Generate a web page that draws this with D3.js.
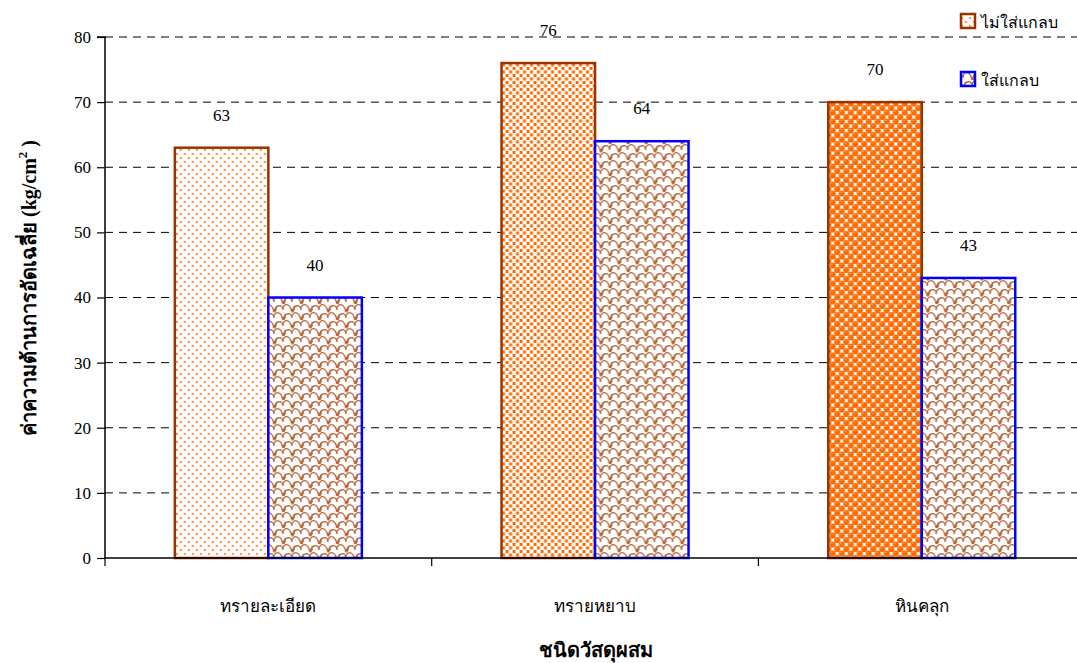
<!DOCTYPE html>
<html><head><meta charset="utf-8">
<script src="https://cdn.jsdelivr.net/npm/d3@7"></script>
<style>
body{margin:0;background:#fff;}
svg text{font-family:"Liberation Serif","Times New Roman","DejaVu Serif",serif;}
</style></head>
<body><svg id="c" width="1077" height="663"></svg>
<script>
const categories = ["ทรายละเอียด","ทรายหยาบ","หินคลุก"];
const seriesNames = ["ไม่ใส่แกลบ","ใส่แกลบ"];
const noHusk = [63,76,70];
const withHusk = [40,64,43];
const yTicks = [0,10,20,30,40,50,60,70,80];

const svg = d3.select("#c");
const defs = svg.append("defs");

// patterns
const p1 = defs.append("pattern").attr("id","dots").attr("patternUnits","userSpaceOnUse").attr("width",8).attr("height",8);
p1.append("rect").attr("width",8).attr("height",8).attr("fill","#fff");
p1.append("circle").attr("cx",2).attr("cy",2).attr("r",1.3).attr("fill","#ff9a5a");
p1.append("circle").attr("cx",6).attr("cy",6).attr("r",1.3).attr("fill","#ff9a5a");

const p2 = defs.append("pattern").attr("id","sq").attr("patternUnits","userSpaceOnUse").attr("width",7).attr("height",7);
p2.append("rect").attr("width",7).attr("height",7).attr("fill","#fff");
p2.append("rect").attr("x",0.4).attr("y",0.4).attr("width",3.1).attr("height",3.1).attr("fill","#ff6a00");
p2.append("rect").attr("x",4).attr("y",4).attr("width",3.1).attr("height",3.1).attr("fill","#ff6a00");

const p3 = defs.append("pattern").attr("id","chk").attr("patternUnits","userSpaceOnUse").attr("width",9).attr("height",9);
p3.append("rect").attr("width",9).attr("height",9).attr("fill","#fff");
[[0,0],[9,0],[0,9],[9,9],[4.5,4.5]].forEach(([x,y])=>{
  p3.append("circle").attr("cx",x).attr("cy",y).attr("r",3.1).attr("fill","#ff6a00");
  p3.append("circle").attr("cx",x-0.8).attr("cy",y-1.2).attr("r",0.8).attr("fill","#ffa060");
});

const p4 = defs.append("pattern").attr("id","scale").attr("patternUnits","userSpaceOnUse").attr("width",18).attr("height",16);
p4.append("rect").attr("width",18).attr("height",16).attr("fill","#fff");
p4.append("path").attr("d","M0,16 C2,8 9,8 9,14 C9,7 16,6 18,16 M-9,8 C-7,0 0,0 0,6 C0,-1 7,-2 9,8 M9,8 C11,0 18,0 18,6 C18,-1 25,-2 27,8 M0,16 C2,16 3,12 2,10 M9,8 C11,8 12,4 11,2")
  .attr("fill","none").attr("stroke","#b5653a").attr("stroke-width",1.3);

const fills = ["url(#dots)","url(#sq)","url(#chk)"];

const m = {l:105, t:37, b:558};
const bandW = 326.7;
const x = d3.scaleBand().domain(categories).range([m.l, m.l+bandW*3]).paddingInner(0).paddingOuter(0);
const y = d3.scaleLinear().domain([0,80]).range([m.b, m.t]);
const xs = d3.scaleBand().domain([0,1]).range([0,187]);

// gridlines
svg.append("g").selectAll("line").data(yTicks.filter(d=>d>0)).join("line")
  .attr("x1",m.l).attr("x2",1077).attr("y1",d=>y(d)).attr("y2",d=>y(d))
  .attr("stroke","#000").attr("stroke-width",1).attr("stroke-dasharray","8,6");

// bars
const groups = svg.append("g").selectAll("g").data(categories).join("g")
  .attr("transform",d=>`translate(${x(d)+x.bandwidth()/2-93.5},0)`);
groups.each(function(c,i){
  const g = d3.select(this);
  const vals = [noHusk[i], withHusk[i]];
  vals.forEach((v,j)=>{
    g.append("rect").attr("x",xs(j)).attr("y",y(v)).attr("width",xs.bandwidth()).attr("height",y(0)-y(v))
      .attr("fill", j===0? fills[i] : "url(#scale)")
      .attr("stroke", j===0? "#993300" : "#0000ff").attr("stroke-width",2.5);
    g.append("text").attr("x",xs(j)+xs.bandwidth()/2).attr("y",y(v)-27)
      .attr("text-anchor","middle").attr("font-size",17).text(v);
  });
});

// y axis
const ya = d3.axisLeft(y).tickValues(yTicks).tickSize(8).tickPadding(6);
const yg = svg.append("g").attr("transform",`translate(${m.l},0)`).call(ya);
yg.attr("font-family",null);
yg.select(".domain").attr("d",`M-8,${m.t}H0V${m.b}`).attr("stroke-width",1.5);
yg.selectAll(".tick line").attr("stroke-width",1.2);
yg.selectAll(".tick text").attr("font-size",17);

// x axis
svg.append("line").attr("x1",m.l).attr("x2",1077).attr("y1",m.b).attr("y2",m.b).attr("stroke","#000").attr("stroke-width",1.5);
svg.append("g").selectAll("line").data(d3.range(0,4)).join("line")
  .attr("x1",d=>m.l+d*bandW).attr("x2",d=>m.l+d*bandW).attr("y1",m.b).attr("y2",m.b+8)
  .attr("stroke","#000").attr("stroke-width",1.2);
svg.append("g").selectAll("text").data(categories).join("text")
  .attr("x",d=>x(d)+x.bandwidth()/2).attr("y",612).attr("text-anchor","middle")
  .attr("font-size",17).text(d=>d);

// axis titles
svg.append("text").attr("x",596).attr("y",657).attr("text-anchor","middle")
  .attr("font-size",20).attr("font-weight","bold").text("ชนิดวัสดุผสม");
const yt = svg.append("text").attr("transform","translate(36,288) rotate(-90)")
  .attr("text-anchor","middle").attr("font-size",20).attr("font-weight","bold");
yt.append("tspan").text("ค่าความต้านการอัดเฉลี่ย (kg/cm");
yt.append("tspan").attr("dy",-9).attr("font-size",13).text("2");
yt.append("tspan").attr("dy",9).text(" )");

// legend
const lg = svg.append("g");
const legFill = ["url(#dots)","url(#scale)"];
const legStroke = ["#993300","#0000ff"];
seriesNames.forEach((s,i)=>{
  const ly = 22 + i*58;
  lg.append("rect").attr("x",961).attr("y",ly-8).attr("width",14).attr("height",14)
    .attr("fill",legFill[i]).attr("stroke",legStroke[i]).attr("stroke-width",2.5);
  lg.append("text").attr("x",981).attr("y",ly+6).attr("font-size",16).text(s);
});
</script></body></html>
